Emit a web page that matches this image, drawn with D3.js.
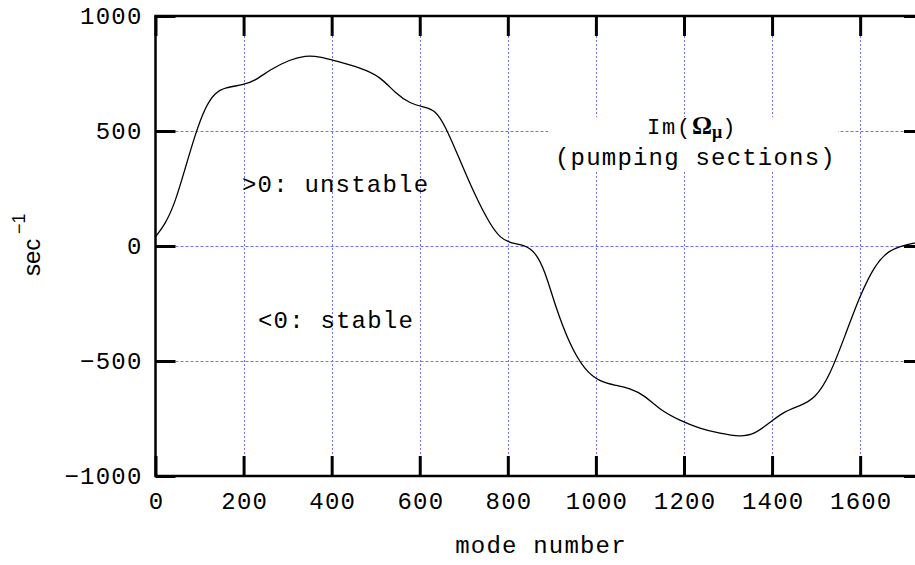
<!DOCTYPE html>
<html><head><meta charset="utf-8">
<script src="https://cdn.jsdelivr.net/npm/d3@7"></script>
<style>body{margin:0;background:#fff;overflow:hidden}</style>
</head><body>
<svg id="c" width="915" height="565"></svg>
<script>
// data
const modes = [0,22,44,67,90,112,135,158,199,226,260,306,340,373,407,464,510,544,578,612,635,657,691,725,760,783,805,839,862,884,907,941,975,1009,1043,1077,1111,1145,1191,1236,1282,1327,1361,1395,1429,1463,1497,1531,1566,1600,1633,1666,1701,1724];
const imOmega = [40,95,185,335,484,601,667,689,700,718,767,811,828,824,806,776,738,665,619,603,590,527,375,222,92,35,13,4,-26,-105,-257,-432,-541,-590,-605,-618,-650,-712,-759,-794,-815,-830,-818,-767,-718,-695,-665,-565,-388,-214,-83,-17,4,13];
const xTicks = [0,200,400,600,800,1000,1200,1400,1600];
const yTicks = [-1000,-500,0,500,1000];
const xDomain = [0,1745];
const yDomain = [-1000,1000];

const svg = d3.select("#c");
const L=155.5, R=924, T=16, B=476;
const x = d3.scaleLinear().domain(xDomain).range([L,R]);
const y = d3.scaleLinear().domain(yDomain).range([B,T]);
const mono = "'Liberation Mono','Courier New',monospace";
const tickLen = 20;
const gridColor = "#6f6fff";

// grid
const g = svg.append("g");
xTicks.filter(d=>d>0).forEach(d=>{
  g.append("line").attr("x1",Math.round(x(d))+0.5).attr("x2",Math.round(x(d))+0.5)
   .attr("y1",T+tickLen).attr("y2",B-tickLen)
   .attr("stroke",gridColor).attr("stroke-width",1).attr("stroke-dasharray","2,2");
});
yTicks.filter(d=>d>-1000 && d<1000).forEach(d=>{
  g.append("line").attr("x1",L+tickLen).attr("x2",R-tickLen)
   .attr("y1",Math.round(y(d))+0.5).attr("y2",Math.round(y(d))+0.5)
   .attr("stroke",gridColor).attr("stroke-width",1).attr("stroke-dasharray","3,2");
});

// key box blanking
svg.append("rect").attr("x",548).attr("y",117).attr("width",290).attr("height",55).attr("fill","#fff");

// curve
const line = d3.line().x((d,i)=>x(modes[i])).y(d=>y(d)).curve(d3.curveBasis);
svg.append("path").attr("d",line(imOmega)).attr("fill","none").attr("stroke","#000").attr("stroke-width",1.3);

// border
svg.append("rect").attr("x",L).attr("y",T).attr("width",R-L).attr("height",B-T)
  .attr("fill","none").attr("stroke","#000").attr("stroke-width",2.5);

// ticks
const axB = d3.axisBottom(x).tickValues(xTicks).tickSize(-tickLen).tickSizeOuter(0).tickFormat(d3.format("d"));
const axT = d3.axisTop(x).tickValues(xTicks).tickSize(-tickLen).tickSizeOuter(0).tickFormat("");
const axL = d3.axisLeft(y).tickValues(yTicks).tickSize(-tickLen).tickSizeOuter(0).tickFormat(d3.format("d"));
const axR = d3.axisRight(y).tickValues(yTicks).tickSize(-tickLen).tickSizeOuter(0).tickFormat("");
function style(sel){
  sel.select(".domain").remove();
  sel.selectAll(".tick line").attr("stroke","#000").attr("stroke-width",3);
  sel.selectAll(".tick text").attr("fill","#000").attr("font-family",mono).attr("font-size",24).attr("letter-spacing","1.2px");
}
svg.append("g").attr("transform",`translate(0,${B})`).call(axB).call(style)
  .selectAll(".tick text").attr("y",33).attr("dy",0).attr("dx",0.6);
svg.append("g").attr("transform",`translate(0,${T})`).call(axT).call(style);
svg.append("g").attr("transform",`translate(${L},0)`).call(axL).call(style)
  .selectAll(".tick text").attr("x",-13).attr("dy","0.32em");
svg.append("g").attr("transform",`translate(${R},0)`).call(axR).call(style);

// labels
svg.append("text").attr("x",541).attr("y",553).attr("text-anchor","middle")
  .attr("font-family",mono).attr("font-size",24).attr("letter-spacing","1.2px").text("mode number");
svg.append("text").attr("transform","translate(40,276) rotate(-90)")
  .attr("font-family","'Liberation Sans',Arial,sans-serif").attr("font-size",24).text("sec");
svg.append("text").attr("transform","translate(25,234) rotate(-90)")
  .attr("font-family","'Liberation Sans',Arial,sans-serif").attr("font-size",18).text("\u22121");

svg.append("text").attr("x",242).attr("y",192).attr("font-family",mono).attr("font-size",24)
  .attr("letter-spacing","1.2px").text(">0: unstable");
svg.append("text").attr("x",258).attr("y",328).attr("font-family",mono).attr("font-size",24)
  .attr("letter-spacing","1.2px").text("<0: stable");

const k = svg.append("text").attr("x",647).attr("y",134).attr("font-family",mono).attr("font-size",22).attr("letter-spacing","1.8px");
k.append("tspan").text("Im(");
k.append("tspan").attr("font-family","'Liberation Serif','DejaVu Serif',serif").attr("font-weight","bold").attr("font-size",25).attr("letter-spacing","0px").text("\u03A9");
k.append("tspan").attr("font-family","'Liberation Serif','DejaVu Serif',serif").attr("font-weight","bold").attr("font-size",18).attr("dy",4).attr("letter-spacing","0px").text("\u03BC");
k.append("tspan").attr("dy",-4).text(")");
svg.append("text").attr("x",555).attr("y",165).attr("font-family",mono).attr("font-size",24)
  .attr("letter-spacing","1.2px").text("(pumping sections)");
</script>
</body></html>
